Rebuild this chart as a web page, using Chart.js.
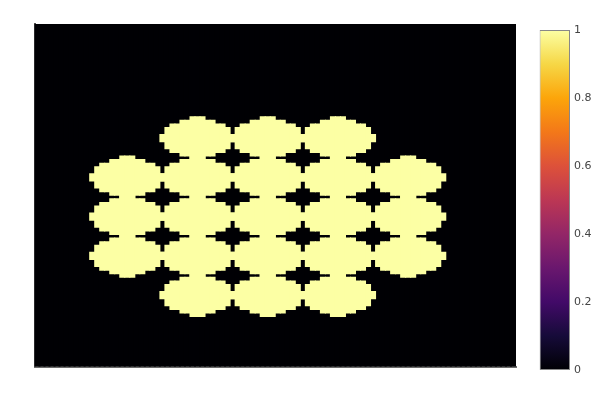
<!DOCTYPE html>
<html><head><meta charset="utf-8">
<script src="https://cdn.jsdelivr.net/npm/chart.js@4"></script>
<style>
html,body{margin:0;padding:0;background:#fff;}
#wrap{position:relative;width:600px;height:400px;}
canvas{position:absolute;left:0;top:0;}
</style></head><body>
<div id="wrap"><canvas id="main" width="600" height="400"></canvas><canvas id="cbar" width="600" height="400"></canvas></div>
<script>
// ---- data ----
const gridCols = 96;                  // heatmap columns
const gridRows = 96;                  // heatmap rows
const colCenters = [18.5, 32.5, 46.5, 60.5, 74.5];   // blob centres (column units)
const rowCenters = [32, 43, 54, 65, 76];             // blob centres (row units, from top)
const circlesPerRow = [[1,2,3],[0,1,2,3,4],[0,1,2,3,4],[0,1,2,3,4],[1,2,3]];
const radiusX = 7.2;                  // blob half-width in columns
const radiusY = 5.6;                  // blob half-height in rows
const shapeExponent = 1.8;            // blob outline roundness
const lowValue = 0, highValue = 1;    // cell values
const cbTicks = [0, 0.2, 0.4, 0.6, 0.8, 1];
const infernoPos = [0, 0.1, 0.2, 0.3, 0.4, 0.5, 0.6, 0.7, 0.8, 0.9, 1];
const infernoCol = ['#000004','#160b39','#420a68','#6a176e','#932667','#bc3754','#dd513a','#f37819','#fca50a','#f6d746','#fcffa4'];

const colLabels = Array.from({length: gridCols}, (_, j) => j);

function cellRun(cx, cy, j) {
  const dx = Math.abs(j + 0.5 - cx) / radiusX;
  if (dx > 1) return null;
  const h = radiusY * Math.pow(1 - Math.pow(dx, shapeExponent), 1 / shapeExponent);
  const top = Math.ceil(cy - h - 0.5);
  const bot = Math.floor(cy + h - 0.5);
  if (bot < top) return null;
  return [top, bot + 1];
}

const datasets = [];
circlesPerRow.forEach((list, r) => {
  list.forEach(c => {
    datasets.push({
      data: colLabels.map(j => cellRun(colCenters[c], rowCenters[r], j)),
      backgroundColor: infernoCol[infernoCol.length - 1],
      inflateAmount: 0.5,
      order: 0
    });
  });
});
datasets.push({
  data: colLabels.map(() => [0, gridRows]),
  backgroundColor: infernoCol[0],
  inflateAmount: 1,
  order: 1
});
datasets.forEach(d => { d.borderWidth = 0; d.barPercentage = 1; d.categoryPercentage = 1; d.grouped = false; });

new Chart(document.getElementById('main'), {
  type: 'bar',
  data: { labels: colLabels, datasets },
  options: {
    responsive: false, animation: false, events: [],
    plugins: { legend: { display: false }, tooltip: { enabled: false } },
    layout: { padding: { left: 34.5, top: 24, right: 84, bottom: 33.5 } },
    scales: {
      x: { grid: { display: false, drawTicks: false }, ticks: { display: false },
           border: { display: true, color: '#6a6a6a', width: 2 } },
      y: { reverse: true, min: 0, max: gridRows,
           grid: { display: false, drawTicks: false }, ticks: { display: false },
           border: { display: true, color: '#505050', width: 2 } }
    }
  }
});

new Chart(document.getElementById('cbar'), {
  type: 'bar',
  data: { labels: ['scale'], datasets: [{
    data: [[lowValue, highValue]],
    backgroundColor: ctx => {
      const a = ctx.chart.chartArea;
      if (!a) return infernoCol[0];
      const g = ctx.chart.ctx.createLinearGradient(0, a.bottom, 0, a.top);
      infernoPos.forEach((p, i) => g.addColorStop(p, infernoCol[i]));
      return g;
    },
    borderColor: '#888', borderWidth: 1, borderSkipped: false,
    barPercentage: 1, categoryPercentage: 1, inflateAmount: 0
  }]},
  options: {
    responsive: false, animation: false, events: [],
    plugins: { legend: { display: false }, tooltip: { enabled: false } },
    layout: { padding: { left: 539.5, top: 30, bottom: 30, right: 0 } },
    scales: {
      x: { display: false },
      y: { position: 'right', min: lowValue, max: highValue,
           afterFit: s => { s.width = 30; },
           afterBuildTicks: s => { s.ticks = cbTicks.map(v => ({ value: v })); },
           grid: { display: false, drawTicks: false }, border: { display: false },
           ticks: { padding: 4, color: '#444', font: { family: 'DejaVu Sans', size: 11 },
                    callback: v => String(v) } }
    }
  }
});
</script>
</body></html>
